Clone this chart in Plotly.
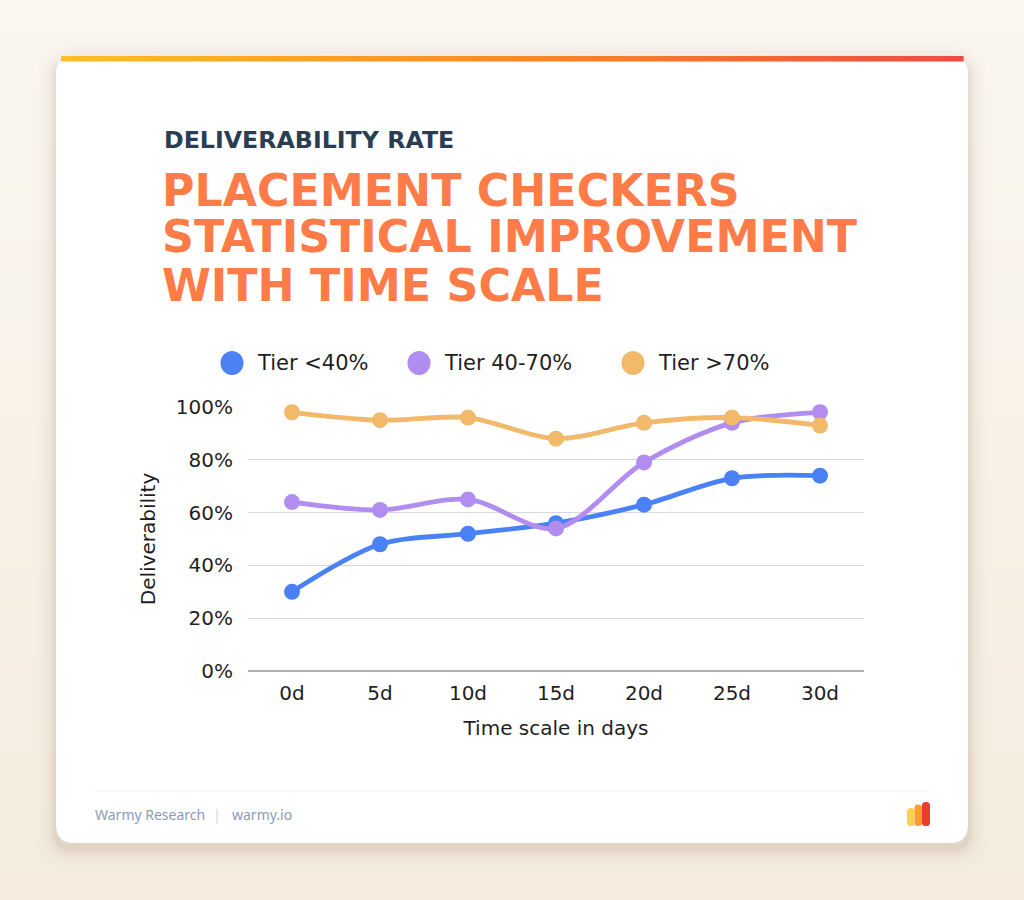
import plotly.graph_objects as go

# ---------------- data ----------------
days = ["0d", "5d", "10d", "15d", "20d", "25d", "30d"]
tier_low = [30, 48, 52, 56, 63, 73, 74]
tier_mid = [64, 61, 65, 54, 79, 94, 98]
tier_high = [98, 95, 96, 88, 94, 96, 93]
series_names = ["Tier <40%", "Tier 40-70%", "Tier >70%"]
series_values = [tier_low, tier_mid, tier_high]
series_colors = ["#4a82f6", "#b18cf1", "#f3b96b"]
y_ticks = [0, 20, 40, 60, 80, 100]
y_tick_labels = ["0%", "20%", "40%", "60%", "80%", "100%"]

W, H = 1024, 900
FONT = "DejaVu Sans"
FOOT = "Noto Sans"
HEAVY = "DejaVu Sans"


def px(x):
    return x / W


def py(y):
    return 1 - y / H


def rrect(x0, y0, x1, y1, r):
    pts = [
        f"M {px(x0 + r)},{py(y0)}",
        f"L {px(x1 - r)},{py(y0)}",
        f"Q {px(x1)},{py(y0)} {px(x1)},{py(y0 + r)}",
        f"L {px(x1)},{py(y1 - r)}",
        f"Q {px(x1)},{py(y1)} {px(x1 - r)},{py(y1)}",
        f"L {px(x0 + r)},{py(y1)}",
        f"Q {px(x0)},{py(y1)} {px(x0)},{py(y1 - r)}",
        f"L {px(x0)},{py(y0 + r)}",
        f"Q {px(x0)},{py(y0)} {px(x0 + r)},{py(y0)}",
        "Z",
    ]
    return " ".join(pts)


def lerp_color(c1, c2, t):
    a = [int(c1[i:i + 2], 16) for i in (1, 3, 5)]
    b = [int(c2[i:i + 2], 16) for i in (1, 3, 5)]
    return "#" + "".join(f"{round(a[k] + (b[k] - a[k]) * t):02x}" for k in range(3))


shapes = []
# page background gradient
nb = 30
for i in range(nb):
    t = i / (nb - 1)
    shapes.append(dict(type="rect", xref="paper", yref="paper", x0=0, x1=1,
                       y0=py(H * (i + 1) / nb), y1=py(H * i / nb),
                       fillcolor=lerp_color("#faf6f0", "#f5ecdf", t),
                       line=dict(width=0), layer="below"))
# card shadow (soft, slightly offset downward)
for k, op in [(20, 0.012), (15, 0.016), (11, 0.02), (7, 0.028), (4, 0.035), (2, 0.045)]:
    shapes.append(dict(type="path", xref="paper", yref="paper",
                       path=rrect(56 - k, 56 - k + 6, 968 + k, 843 + k + 6, 18 + k),
                       fillcolor=f"rgba(120,90,50,{op})", line=dict(width=0), layer="below"))
# card
shapes.append(dict(type="path", xref="paper", yref="paper",
                   path=rrect(56, 56, 968, 843, 18), fillcolor="#ffffff",
                   line=dict(width=0), layer="below"))
# top gradient bar
seg = 90
x_start, x_end = 61, 963
for i in range(seg):
    t = i / (seg - 1)
    if t < 0.5:
        c = lerp_color("#fbbf1f", "#fb8a23", t / 0.5)
    else:
        c = lerp_color("#fb8a23", "#ef4a42", (t - 0.5) / 0.5)
    xa = x_start + (x_end - x_start) * i / seg
    xb = x_start + (x_end - x_start) * (i + 1) / seg + 0.6
    shapes.append(dict(type="rect", xref="paper", yref="paper", x0=px(xa), x1=px(xb),
                       y0=py(61.5), y1=py(56), fillcolor=c, line=dict(width=0), layer="below"))
# footer separator
shapes.append(dict(type="line", xref="paper", yref="paper", x0=px(94), x1=px(930),
                   y0=py(791), y1=py(791), line=dict(color="#f0f0f4", width=1.2), layer="below"))
# logo bars
for (xa, xb, ytop, col) in [(907, 914.5, 808, "#ffcf4f"), (914.5, 922, 804.5, "#ff9e2c"),
                            (922, 930, 802, "#f03a30")]:
    shapes.append(dict(type="path", xref="paper", yref="paper",
                       path=rrect(xa, ytop, xb, 826, 3.6), fillcolor=col,
                       line=dict(width=0), layer="below"))

annotations = []
# small heading
annotations.append(dict(text="<b>DELIVERABILITY RATE</b>", xref="paper", yref="paper",
                        x=px(162), y=py(140.5), xanchor="left", yanchor="middle", showarrow=False,
                        font=dict(family=HEAVY, size=23.7, color="#2b3d52")))
# main title lines
for txt, yc in [("PLACEMENT CHECKERS", 190), ("STATISTICAL IMPROVEMENT", 237),
                ("WITH TIME SCALE", 285)]:
    annotations.append(dict(text=f"<b>{txt}</b>", xref="paper", yref="paper",
                            x=px(160), y=py(yc), xanchor="left", yanchor="middle",
                            showarrow=False,
                            font=dict(family=HEAVY, size=44.3, color="#ff7b47")))
# manual legend
legend_dot_x = [232, 419, 633]
for name, col, dx in zip(series_names, series_colors, legend_dot_x):
    shapes.append(dict(type="circle", xref="paper", yref="paper",
                       x0=px(dx - 11.5), x1=px(dx + 11.5), y0=py(363 + 12), y1=py(363 - 12),
                       fillcolor=col, line=dict(width=0)))
    annotations.append(dict(text=name, xref="paper", yref="paper", x=px(dx + 23), y=py(363),
                            xanchor="left", yanchor="middle", showarrow=False,
                            font=dict(family=FONT, size=21, color="#1f1f1f")))
# footer
annotations.append(dict(text="Warmy Research", xref="paper", yref="paper", x=px(93), y=py(814),
                        xanchor="left", yanchor="middle", showarrow=False,
                        font=dict(family=FOOT, size=14, color="#8d9bb3")))
annotations.append(dict(text="|", xref="paper", yref="paper", x=px(217), y=py(814),
                        xanchor="center", yanchor="middle", showarrow=False,
                        font=dict(family=FOOT, size=14, color="#d0d6e0")))
annotations.append(dict(text="warmy.io", xref="paper", yref="paper", x=px(230), y=py(814),
                        xanchor="left", yanchor="middle", showarrow=False,
                        font=dict(family=FOOT, size=14, color="#8d9bb3")))

fig = go.Figure()
for name, vals, col in zip(series_names, series_values, series_colors):
    fig.add_trace(go.Scatter(x=days, y=vals, name=name, mode="lines+markers",
                             line=dict(color=col, width=4.8, shape="spline", smoothing=0.9),
                             marker=dict(color=col, size=16),
                             cliponaxis=False, showlegend=False))

fig.update_layout(
    width=W, height=H,
    margin=dict(l=0, r=0, t=0, b=0, pad=0, autoexpand=False),
    paper_bgcolor="#faf6f0",
    plot_bgcolor="rgba(0,0,0,0)",
    shapes=shapes,
    annotations=annotations,
    showlegend=False,
    xaxis=dict(domain=[px(248), px(864)], type="category", range=[-0.5, 6.5],
               automargin=False,
               showgrid=False, showline=False, zeroline=False, ticks="",
               ticklabelstandoff=8,
               tickfont=dict(family=FONT, size=20, color="#1f1f1f"),
               title=dict(text="Time scale in days", standoff=16,
                          font=dict(family=FONT, size=20, color="#1f1f1f"))),
    yaxis=dict(domain=[py(671), py(407)], range=[0, 100], automargin=False,
               tickvals=y_ticks, ticktext=y_tick_labels,
               showgrid=True, gridcolor="#d8d8d8", gridwidth=1.2,
               zeroline=True, zerolinecolor="#b0b0b0", zerolinewidth=1.5,
               showline=False, ticks="", ticklabelstandoff=14,
               tickfont=dict(family=FONT, size=20, color="#1f1f1f"),
               title=dict(text="Deliverability", standoff=14,
                          font=dict(family=FONT, size=20, color="#1f1f1f"))),
)

fig.write_html("out.html")
